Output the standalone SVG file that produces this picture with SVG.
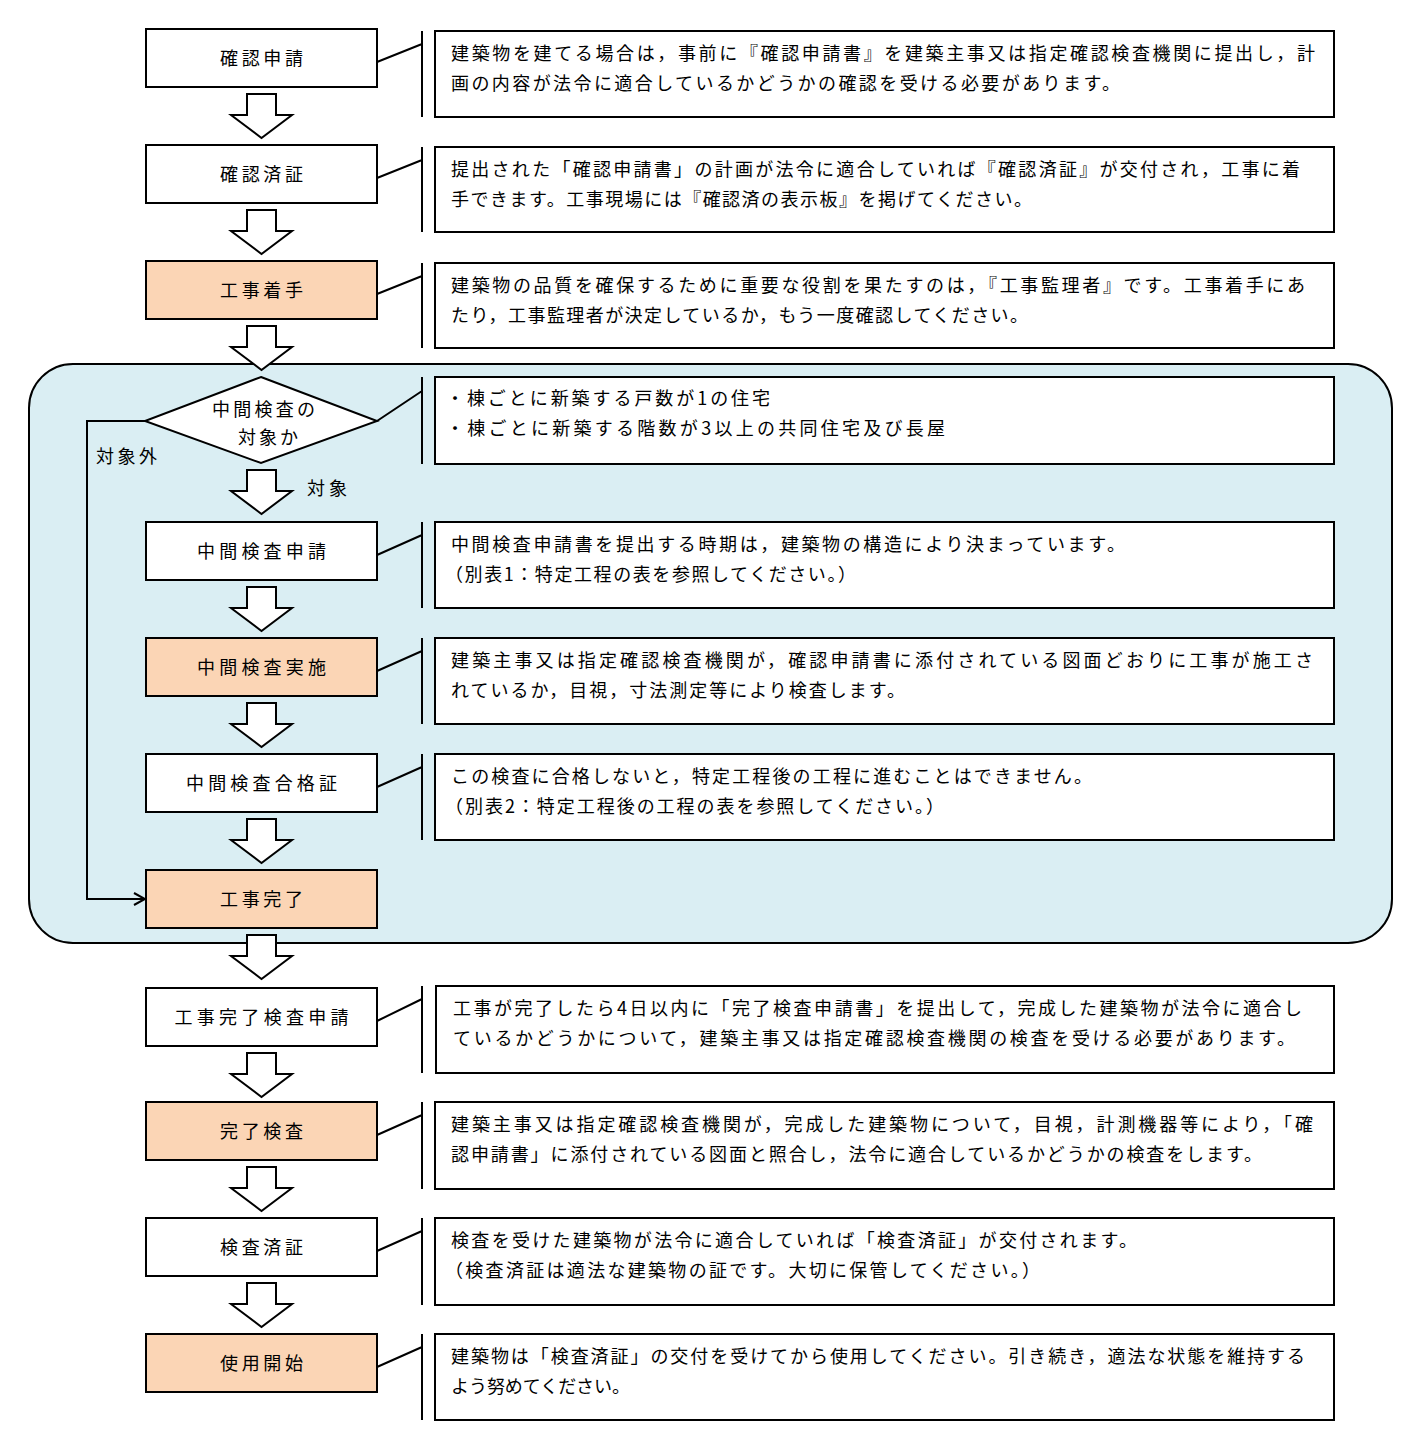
<svg xmlns="http://www.w3.org/2000/svg" xmlns:xlink="http://www.w3.org/1999/xlink" width="1422" height="1451" viewBox="0 0 1422 1451">
<style>
text{font-family:"Noto Sans CJK JP","Noto Sans CJK SC",sans-serif;font-size:18px;fill:#000}
.box{fill:#fff;stroke:#000;stroke-width:2}
.org{fill:#FBD5B5;stroke:#000;stroke-width:2}
.desc{fill:#fff;stroke:#000;stroke-width:2}
.ln{fill:none;stroke:#000;stroke-width:2}
.lbl{text-anchor:middle}
.blk{fill:#fff;stroke:#000;stroke-width:2;stroke-linejoin:miter}
</style>
<defs>
<path id="blk" class="blk" d="M247,0 H276 V21 H292 L261.5,44 L231,21 H247 Z"/>
<marker id="open" markerWidth="14" markerHeight="14" refX="12" refY="7" orient="auto" markerUnits="userSpaceOnUse">
<path d="M1,1 L12,7 L1,13" fill="none" stroke="#000" stroke-width="2"/>
</marker>
</defs>
<rect x="29" y="364" width="1363" height="579" rx="44" ry="44" fill="#DAEEF3" stroke="#000" stroke-width="2"/>

<g id="connectors">
<path class="ln" d="M377,62 L422,44 M422,31 V117"/>
<path class="ln" d="M377,178 L422,160 M422,147 V232"/>
<path class="ln" d="M377,294 L422,276 M422,263 V348"/>
<path class="ln" d="M377,421 L422,391 M422,377 V464"/>
<path class="ln" d="M377,555 L422,535 M422,522 V608"/>
<path class="ln" d="M377,671 L422,651 M422,638 V724"/>
<path class="ln" d="M377,787 L422,767 M422,754 V840"/>
<path class="ln" d="M377,1021 L422,999 M422,986 V1073"/>
<path class="ln" d="M377,1135 L422,1115 M422,1102 V1189"/>
<path class="ln" d="M377,1251 L422,1231 M422,1218 V1305"/>
<path class="ln" d="M377,1367 L422,1347 M422,1334 V1420"/>
<path class="ln" d="M145,421 H87 V899 H145" marker-end="url(#open)"/>
<use xlink:href="#blk" y="94"/>
<use xlink:href="#blk" y="210"/>
<use xlink:href="#blk" y="326"/>
<use xlink:href="#blk" y="470"/>
<use xlink:href="#blk" y="587"/>
<use xlink:href="#blk" y="703"/>
<use xlink:href="#blk" y="819"/>
<use xlink:href="#blk" y="935"/>
<use xlink:href="#blk" y="1053"/>
<use xlink:href="#blk" y="1167"/>
<use xlink:href="#blk" y="1283"/>
<text x="96" y="463" textLength="61">対象外</text>
<text x="307" y="495" textLength="40">対象</text>
</g>

<g id="n1"><rect class="box" x="146" y="29" width="231" height="58"/><text class="lbl" x="261.5" y="64.5" textLength="83">確認申請</text></g>
<g id="n2"><rect class="box" x="146" y="145" width="231" height="58"/><text class="lbl" x="261.5" y="180.5" textLength="83">確認済証</text></g>
<g id="n3"><rect class="org" x="146" y="261" width="231" height="58"/><text class="lbl" x="261.5" y="296.5" textLength="83">工事着手</text></g>
<g id="n4"><polygon class="box" points="261,377 377,421 261,463 145,421"/><text class="lbl" x="263.5" y="415.5" textLength="103">中間検査の</text><text class="lbl" x="268" y="443.5" textLength="60">対象か</text></g>
<g id="n5"><rect class="box" x="146" y="522" width="231" height="58"/><text class="lbl" x="261.5" y="557.5" textLength="129">中間検査申請</text></g>
<g id="n6"><rect class="org" x="146" y="638" width="231" height="58"/><text class="lbl" x="261.5" y="673.5" textLength="129">中間検査実施</text></g>
<g id="n7"><rect class="box" x="146" y="754" width="231" height="58"/><text class="lbl" x="261.5" y="789.5" textLength="151">中間検査合格証</text></g>
<g id="n8"><rect class="org" x="146" y="870" width="231" height="58"/><text class="lbl" x="261.5" y="905.5" textLength="83">工事完了</text></g>
<g id="n9"><rect class="box" x="146" y="988" width="231" height="58"/><text class="lbl" x="261.5" y="1023.5" textLength="174">工事完了検査申請</text></g>
<g id="n10"><rect class="org" x="146" y="1102" width="231" height="58"/><text class="lbl" x="261.5" y="1137.5" textLength="83">完了検査</text></g>
<g id="n11"><rect class="box" x="146" y="1218" width="231" height="58"/><text class="lbl" x="261.5" y="1253.5" textLength="83">検査済証</text></g>
<g id="n12"><rect class="org" x="146" y="1334" width="231" height="58"/><text class="lbl" x="261.5" y="1369.5" textLength="83">使用開始</text></g>

<g id="d1"><rect class="desc" x="435" y="31" width="899" height="86"/>
<text x="451" y="59.5" textLength="864">建築物を建てる場合は，事前に『確認申請書』を建築主事又は指定確認検査機関に提出し，計</text>
<text x="451" y="89.5" textLength="669">画の内容が法令に適合しているかどうかの確認を受ける必要があります。</text></g>
<g id="d2"><rect class="desc" x="435" y="147" width="899" height="85"/>
<text x="451" y="175.5" textLength="849">提出された「確認申請書」の計画が法令に適合していれば『確認済証』が交付され，工事に着</text>
<text x="451" y="205.5" textLength="581">手できます。工事現場には『確認済の表示板』を掲げてください。</text></g>
<g id="d3"><rect class="desc" x="435" y="263" width="899" height="85"/>
<text x="451" y="291.5" textLength="854">建築物の品質を確保するために重要な役割を果たすのは，『工事監理者』です。工事着手にあ</text>
<text x="451" y="321.5" textLength="577">たり，工事監理者が決定しているか，もう一度確認してください。</text></g>
<g id="d4"><rect class="desc" x="435" y="377" width="899" height="87"/>
<text x="446" y="404.5" textLength="324">・棟ごとに新築する戸数が1の住宅</text>
<text x="446" y="434.5" textLength="499">・棟ごとに新築する階数が3以上の共同住宅及び長屋</text></g>
<g id="d5"><rect class="desc" x="435" y="522" width="899" height="86"/>
<text x="451" y="550.5" textLength="674">中間検査申請書を提出する時期は，建築物の構造により決まっています。</text>
<text x="445" y="580.5" textLength="411">（別表1：特定工程の表を参照してください。）</text></g>
<g id="d6"><rect class="desc" x="435" y="638" width="899" height="86"/>
<text x="451" y="666.5" textLength="862">建築主事又は指定確認検査機関が，確認申請書に添付されている図面どおりに工事が施工さ</text>
<text x="451" y="696.5" textLength="454">れているか，目視，寸法測定等により検査します。</text></g>
<g id="d7"><rect class="desc" x="435" y="754" width="899" height="86"/>
<text x="451" y="782.5" textLength="641">この検査に合格しないと，特定工程後の工程に進むことはできません。</text>
<text x="445" y="812.5" textLength="499">（別表2：特定工程後の工程の表を参照してください。）</text></g>
<g id="d9"><rect class="desc" x="436" y="986" width="898" height="87"/>
<text x="453" y="1014.5" textLength="849">工事が完了したら4日以内に「完了検査申請書」を提出して，完成した建築物が法令に適合し</text>
<text x="453" y="1044.5" textLength="842">ているかどうかについて，建築主事又は指定確認検査機関の検査を受ける必要があります。</text></g>
<g id="d10"><rect class="desc" x="435" y="1102" width="899" height="87"/>
<text x="451" y="1130.5" textLength="862">建築主事又は指定確認検査機関が，完成した建築物について，目視，計測機器等により，「確</text>
<text x="451" y="1160.5" textLength="811">認申請書」に添付されている図面と照合し，法令に適合しているかどうかの検査をします。</text></g>
<g id="d11"><rect class="desc" x="435" y="1218" width="899" height="87"/>
<text x="451" y="1246.5" textLength="686">検査を受けた建築物が法令に適合していれば「検査済証」が交付されます。</text>
<text x="445" y="1276.5" textLength="595">（検査済証は適法な建築物の証です。大切に保管してください。）</text></g>
<g id="d12"><rect class="desc" x="435" y="1334" width="899" height="86"/>
<text x="451" y="1362.5" textLength="854">建築物は「検査済証」の交付を受けてから使用してください。引き続き，適法な状態を維持する</text>
<text x="451" y="1392.5" textLength="179">よう努めてください。</text></g>
</svg>
